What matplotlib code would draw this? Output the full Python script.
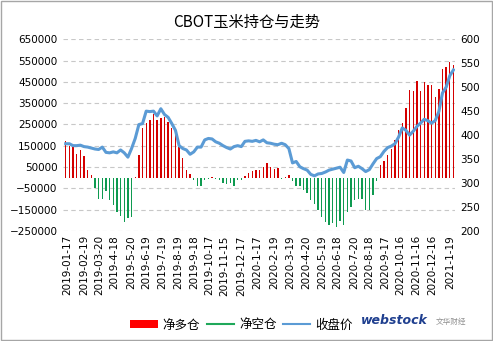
import matplotlib
matplotlib.use("Agg")
import matplotlib.pyplot as plt
from matplotlib.patches import Patch, Rectangle
from matplotlib.lines import Line2D
import numpy as np
import pandas as pd

plt.rcParams['font.family'] = ['Noto Sans CJK SC', 'DejaVu Sans']

# weekly COT net position (contracts) and corn close (cents/bu), from 2019-01-15
net_position = [
    172000, 147000, 145000, 112000, 128000, 100000, 35000, 14000,
    -47000, -100000, -100000, -64000, -103000, -130000, -160000, -180000,
    -210000, -190000, -186000,
    5000, 106000, 232000, 255000, 271000, 300000, 271000, 279000, 286000,
    260000, 232000, 216000, 146000, 91000, 38000, 16000,
    -10000, -40000, -40000, -13000, -5000, 5000, -8000, -13000, -27000,
    -28000, -27000, -40000, -13000, -11000,
    8000, 22000, 32000, 36000, 36000, 48000, 70000, 52000, 43000, 45000,
    -5000, 5000, 14000,
    -14000, -39000, -40000, -56000, -74000, -105000, -125000, -152000,
    -186000, -206000, -224000, -213000, -232000, -205000, -222000, -162000,
    -136000, -105000, -102000, -102000, -152000, -152000, -81000, -15000,
    59000, 80000, 106000, 133000, 177000, 224000, 258000, 326000, 412000,
    408000, 455000, 408000, 448000, 435000, 435000, 380000, 415000, 509000,
    521000, 541000, 529000,
]
close_price = [
    382, 382, 378, 378, 379, 376, 375, 373, 371, 370, 375, 364, 363, 365,
    363, 369, 363, 354, 372, 393, 422, 424, 450, 449, 450, 440, 455, 443,
    437, 424, 410, 378, 372, 369, 360, 365, 375, 375, 390, 393, 392, 386,
    383, 378, 374, 371, 376, 378, 376, 387, 388, 387, 389, 386, 390, 384,
    383, 381, 380, 383, 380, 372, 342, 345, 334, 330, 327, 318, 315, 319,
    320, 323, 327, 329, 331, 333, 322, 348, 346, 332, 335, 330, 324, 328,
    340, 351, 355, 366, 374, 377, 382, 396, 415, 410, 400, 408, 418, 425,
    433, 430, 425, 430, 449, 488, 500, 524, 536,
]
tick_labels = [
    "2019-01-17", "2019-02-19", "2019-03-20", "2019-4-18", "2019-5-20",
    "2019-6-19", "2019-7-19", "2019-8-19", "2019-9-18", "2019-10-17",
    "2019-11-15", "2019-12-17", "2020-1-17", "2020-2-19", "2020-3-19",
    "2020-4-20", "2020-5-19", "2020-6-18", "2020-7-20", "2020-8-18",
    "2020-9-17", "2020-10-16", "2020-11-16", "2020-12-16", "2021-1-19",
]

dates = pd.date_range("2019-01-15", periods=len(net_position), freq="7D")
net = np.array(net_position)
price = np.array(close_price)

fig = plt.figure(figsize=(4.93, 3.41), dpi=100)
ax = fig.add_axes([0.128, 0.3226, 0.795, 0.5624])
ax2 = ax.twinx()

long_c = np.where(net > 0, net, 0)
short_c = np.where(net < 0, net, 0)
ax.bar(dates, long_c, width=2.6, color="#D40000", linewidth=0, zorder=2)
ax.bar(dates, short_c, width=2.6, color="#0E9A50", linewidth=0, zorder=2)

ax2.plot(dates, price, color="#5B9BD5", linewidth=2.2, zorder=3)

ax.set_ylim(-250000, 650000)
ax.set_yticks(np.arange(-250000, 650001, 100000))
ax2.set_ylim(200, 600)
ax2.set_yticks(np.arange(200, 601, 50))
ax.grid(axis="y", color="#C8C8C8", linestyle=(0, (4, 3)), linewidth=0.8)
ax.set_axisbelow(True)

ax.set_xlim(dates[0] - pd.Timedelta(days=5), dates[-1] + pd.Timedelta(days=3))
ax.set_xticks(pd.to_datetime(tick_labels, format="mixed"))
ax.set_xticklabels(tick_labels, rotation=90, family="DejaVu Sans", fontsize=7.3)

for a in (ax, ax2):
    for s in a.spines.values():
        s.set_visible(False)
    a.tick_params(length=0, labelsize=7.5, colors="#000000", pad=4)
for lbl in ax.get_yticklabels() + ax2.get_yticklabels():
    lbl.set_family("DejaVu Sans")
ax.tick_params(axis="x", pad=3)

fig.text(0.5, 0.935, "CBOT玉米持仓与走势", ha="center", va="center", fontsize=11)

handles = [
    Patch(facecolor="#FF0000", edgecolor="none"),
    Line2D([0], [0], color="#1FA85A", linewidth=1.5),
    Line2D([0], [0], color="#5B9BD5", linewidth=1.5),
]
fig.legend(handles, ["净多仓", "净空仓", "收盘价"], loc="center",
           bbox_to_anchor=(0.49, 0.047), ncol=3, frameon=False, fontsize=9,
           handlelength=2.2, handletextpad=0.4, columnspacing=0.5)

# logo at bottom right
fig.text(0.80, 0.06, "webstock", color="#1F3F8F", fontsize=9, fontweight="bold",
         style="italic", ha="center", va="center", family="DejaVu Sans")
fig.text(0.915, 0.055, "文华财经", color="#909090", fontsize=5.5, ha="center", va="center")

fig.add_artist(Rectangle((0.002, 0.003), 0.995, 0.994, transform=fig.transFigure,
                         fill=False, edgecolor="#A6A6A6", linewidth=1.0))

fig.savefig("out.png", dpi=100)
